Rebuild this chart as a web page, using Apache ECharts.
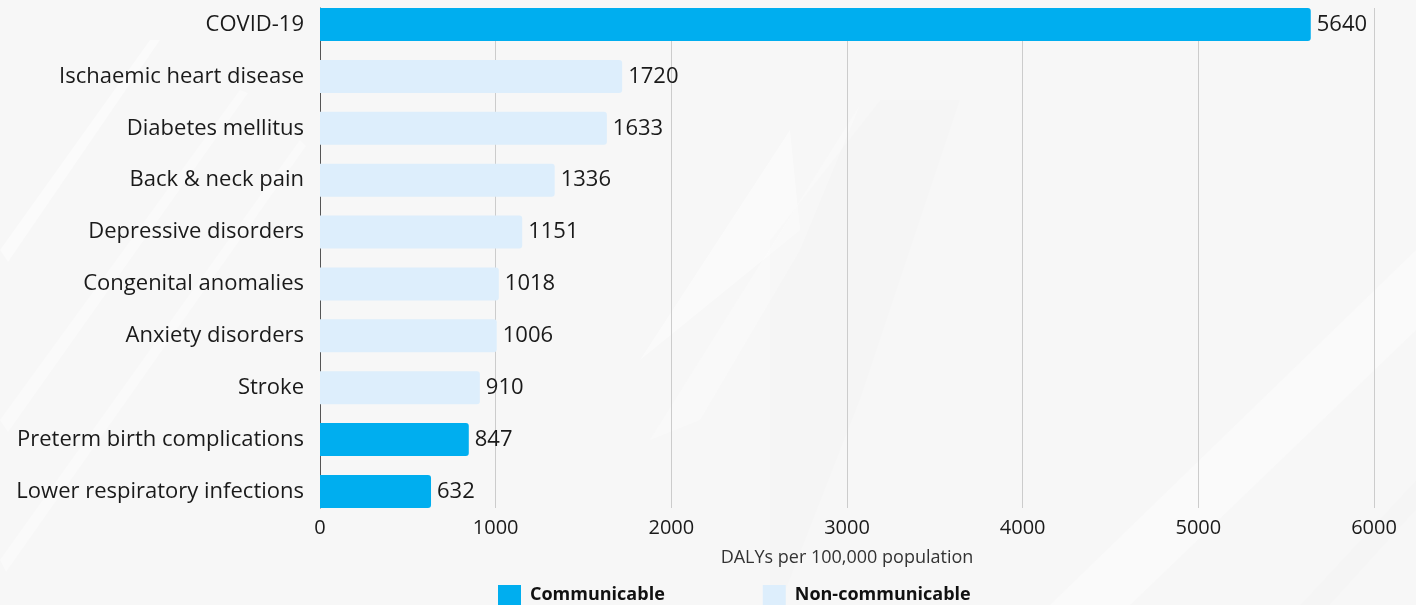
<!DOCTYPE html>
<html>
<head>
<meta charset="utf-8">
<script src="https://cdn.jsdelivr.net/npm/echarts@6/dist/echarts.min.js"></script>
<style>
  html, body { margin: 0; padding: 0; background: #f7f7f7; }
  #chart { width: 1416px; height: 605px; }
</style>
</head>
<body>
<div id="chart"></div>
<script>
// Leading causes of disease burden (DALYs per 100,000 population)
const categories = [
  'COVID-19',
  'Ischaemic heart disease',
  'Diabetes mellitus',
  'Back & neck pain',
  'Depressive disorders',
  'Congenital anomalies',
  'Anxiety disorders',
  'Stroke',
  'Preterm birth complications',
  'Lower respiratory infections'
];
const values = [5640, 1720, 1633, 1336, 1151, 1018, 1006, 910, 847, 632];
const groups = ['C', 'N', 'N', 'N', 'N', 'N', 'N', 'N', 'C', 'C'];
const groupNames = { C: 'Communicable', N: 'Non-communicable' };
const xTicks = [0, 1000, 2000, 3000, 4000, 5000, 6000];

const colors = { C: '#00aeef', N: '#ddeefc' };
const FONT = '"Open Sans", "Noto Sans", sans-serif';

function seriesFor(g) {
  return {
    name: groupNames[g],
    type: 'bar',
    xAxisIndex: 0,
    yAxisIndex: 0,
    barWidth: 33,
    barGap: '-100%',
    itemStyle: { color: colors[g], borderRadius: [0, 3, 3, 0] },
    label: {
      show: true,
      position: 'right',
      distance: 6,
      fontFamily: FONT,
      fontSize: 22,
      color: '#1a1a1a'
    },
    data: values.map((v, i) => (groups[i] === g ? v : '-')),
    z: 3
  };
}

// faint diagonal background shapes
const bgShapes = [
  { pts: [[0, 250], [150, 40], [160, 40], [8, 262]], fill: 'rgba(255,255,255,0.45)' },
  { pts: [[0, 420], [240, 90], [248, 93], [8, 432]], fill: 'rgba(255,255,255,0.4)' },
  { pts: [[0, 560], [300, 140], [306, 146], [6, 572]], fill: 'rgba(255,255,255,0.35)' },
  { pts: [[640, 360], [790, 130], [800, 230]], fill: 'rgba(255,255,255,0.4)' },
  { pts: [[650, 440], [860, 105], [800, 250], [700, 420]], fill: 'rgba(255,255,255,0.3)' },
  { pts: [[770, 240], [880, 100], [960, 100], [860, 400], [780, 605], [770, 605]], fill: 'rgba(0,0,0,0.008)' },
  { pts: [[1050, 605], [1416, 250], [1416, 330], [1130, 605]], fill: 'rgba(255,255,255,0.35)' },
  { pts: [[1300, 605], [1416, 480], [1416, 510], [1330, 605]], fill: 'rgba(0,0,0,0.008)' }
];

const chart = echarts.init(document.getElementById('chart'), null, { renderer: 'canvas' });
chart.setOption({
  backgroundColor: '#f7f7f7',
  animation: false,
  graphic: bgShapes.map(s => ({
    type: 'polygon',
    silent: true,
    z: -10,
    shape: { points: s.pts },
    style: { fill: s.fill }
  })),
  grid: [
    // bars: categories sit on ticks so the first/last bar edges meet the frame
    { left: 320, right: 42, top: 24.5, bottom: 113.5 },
    // frame: value gridlines and the vertical axis line
    { left: 320, right: 42, top: 8, bottom: 97 }
  ],
  legend: {
    left: 493,
    top: 580,
    itemWidth: 23,
    itemHeight: 20,
    itemGap: 98,
    icon: 'rect',
    textStyle: { fontFamily: FONT, fontSize: 18, fontWeight: 'bold', color: '#111', padding: [0, 0, 0, 4] },
    data: ['Communicable', 'Non-communicable']
  },
  xAxis: [
    {
      gridIndex: 0,
      type: 'value',
      min: 0,
      max: 6000,
      show: false
    },
    {
      gridIndex: 1,
      type: 'value',
      min: 0,
      max: 6000,
      interval: 1000,
      axisLine: { show: false },
      axisTick: { show: false },
      splitLine: { show: true, lineStyle: { color: '#cccccc', width: 1 } },
      axisLabel: {
        margin: 10,
        fontFamily: FONT,
        fontSize: 20,
        color: '#1a1a1a',
        formatter: v => (xTicks.includes(v) ? String(v) : '')
      },
      name: 'DALYs per 100,000 population',
      nameLocation: 'middle',
      nameGap: 41,
      nameTextStyle: { fontFamily: FONT, fontSize: 18, color: '#333' }
    }
  ],
  yAxis: [
    {
      gridIndex: 0,
      type: 'category',
      inverse: true,
      boundaryGap: false,
      data: categories,
      axisLine: { show: false },
      axisTick: { show: false },
      splitLine: { show: false },
      axisLabel: {
        margin: 16,
        fontFamily: FONT,
        fontSize: 22,
        color: '#1a1a1a'
      }
    },
    {
      gridIndex: 1,
      type: 'value',
      min: 0,
      max: 1,
      axisLine: { show: true, lineStyle: { color: '#555555', width: 1 } },
      axisTick: { show: false },
      axisLabel: { show: false },
      splitLine: { show: false }
    }
  ],
  series: [seriesFor('C'), seriesFor('N')]
});
</script>
</body>
</html>
